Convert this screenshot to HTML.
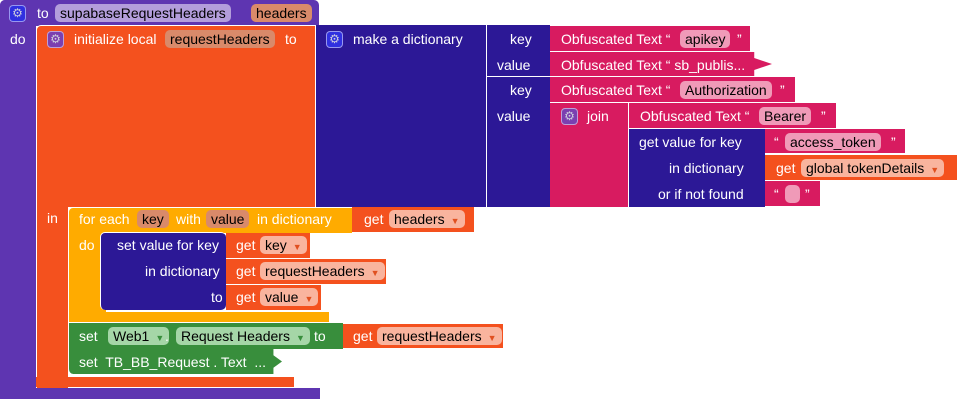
<!DOCTYPE html>
<html><head><meta charset="utf-8"><style>
body{margin:0;width:957px;height:400px;position:relative;background:#fff;overflow:hidden;font-family:"Liberation Sans",Arial,sans-serif;font-size:14px;color:#fff}
.b{position:absolute;box-sizing:border-box}
.t{position:absolute;white-space:nowrap;line-height:16px}
.f{position:absolute;height:18px;line-height:18px;border-radius:5px;padding:0 5px;color:#000;box-sizing:border-box;white-space:nowrap}
.g{position:absolute;width:17px;height:17px;border-radius:4px;border:1px solid rgba(255,255,255,.5);box-sizing:border-box;text-align:center;line-height:15px;font-size:12px;color:#ccd}
.dd{font-size:9px;color:#e05020;margin-left:6px}
</style></head><body>
<!-- procedure -->
<div class="b" style="left:0;top:0;width:319px;height:26px;background:#5e35b1;border-radius:5px 5px 0 0"></div>
<div class="b" style="left:0;top:0;width:36px;height:399px;background:#5e35b1;border-radius:5px 0 0 5px"></div>
<div class="b" style="left:0;top:388px;width:320px;height:11px;background:#5e35b1"></div>
<div class="g" style="left:9;left:9px;top:5px;background:#3030e0">⚙</div>
<div class="t" style="left:37px;top:5px">to</div>
<div class="f" style="left:55px;top:4px;background:#b39ddb">supabaseRequestHeaders</div>
<div class="f" style="left:251px;top:4px;background:#d98a6a">headers</div>
<div class="t" style="left:10px;top:31px">do</div>
<!-- init local -->
<div class="b" style="left:36px;top:25px;width:280px;height:182px;background:#f4511e;border-radius:5px 0 0 0;border-left:1px solid #fff;border-top:1px solid #fff"></div>
<div class="b" style="left:36px;top:200px;width:32px;height:188px;background:#f4511e;border-left:1px solid #fff"></div>
<div class="b" style="left:36px;top:377px;width:258px;height:10px;background:#f4511e"></div>
<div class="g" style="left:47px;top:31px;background:#7b3fb0">⚙</div>
<div class="t" style="left:74px;top:31px">initialize local</div>
<div class="f" style="left:165px;top:30px;background:#d98a6a">requestHeaders</div>
<div class="t" style="left:285px;top:31px">to</div>
<div class="t" style="left:47px;top:210px">in</div>
<!-- make a dictionary -->
<div class="b" style="left:315px;top:25px;width:172px;height:182px;background:#2c1896;border-left:1px solid #fff"></div>
<div class="g" style="left:326px;top:31px;background:#3030e0">⚙</div>
<div class="t" style="left:353px;top:31px">make a dictionary</div>
<div class="b" style="left:486px;top:25px;width:64px;height:182px;background:#2c1896;border-left:1px solid #fff"></div>
<div class="b" style="left:486px;top:76px;width:64px;height:1px;background:#fff"></div>
<div class="t" style="left:510px;top:31px">key</div>
<div class="t" style="left:497px;top:57px">value</div>
<div class="t" style="left:510px;top:82px">key</div>
<div class="t" style="left:497px;top:108px">value</div>
<!-- pink -->
<div class="b" style="left:550px;top:26px;width:200px;height:25px;background:#d81b60"></div>
<div class="t" style="left:561px;top:31px">Obfuscated Text “</div>
<div class="f" style="left:680px;top:30px;background:#f09ab8">apikey</div>
<div class="t" style="left:737px;top:31px">”</div>
<div class="b" style="left:550px;top:52px;width:222px;height:24px;background:#d81b60;clip-path:polygon(0 0,92% 0,92% 25%,100% 50%,92% 75%,92% 100%,0 100%)"></div>
<div class="t" style="left:561px;top:57px">Obfuscated Text “ sb_publis...</div>
<div class="b" style="left:550px;top:77px;width:245px;height:25px;background:#d81b60"></div>
<div class="t" style="left:561px;top:82px">Obfuscated Text “</div>
<div class="f" style="left:680px;top:81px;background:#f09ab8">Authorization</div>
<div class="t" style="left:780px;top:82px">”</div>
<div class="b" style="left:550px;top:103px;width:78px;height:104px;background:#d81b60"></div>
<div class="g" style="left:561px;top:108px;background:#7b3fb0">⚙</div>
<div class="t" style="left:587px;top:108px">join</div>
<div class="b" style="left:628px;top:103px;width:208px;height:25px;background:#d81b60;border-left:1px solid #fff"></div>
<div class="t" style="left:640px;top:108px">Obfuscated Text “</div>
<div class="f" style="left:759px;top:107px;background:#f09ab8">Bearer</div>
<div class="t" style="left:821px;top:108px">”</div>
<div class="b" style="left:628px;top:129px;width:137px;height:78px;background:#2c1896;border-left:1px solid #fff"></div>
<div class="t" style="left:639px;top:134px">get value for key</div>
<div class="t" style="left:669px;top:160px">in dictionary</div>
<div class="t" style="left:658px;top:186px">or if not found</div>
<div class="b" style="left:765px;top:129px;width:140px;height:24px;background:#d81b60"></div>
<div class="t" style="left:774px;top:134px">“</div>
<div class="f" style="left:785px;top:133px;background:#f09ab8">access_token</div>
<div class="t" style="left:891px;top:134px">”</div>
<div class="b" style="left:765px;top:155px;width:192px;height:25px;background:#f4511e"></div>
<div class="t" style="left:776px;top:160px">get</div>
<div class="f" style="left:801px;top:159px;background:#f9b49e">global tokenDetails<span class="dd">▼</span></div>
<div class="b" style="left:765px;top:181px;width:55px;height:25px;background:#d81b60"></div>
<div class="t" style="left:774px;top:186px">“</div>
<div class="f" style="left:785px;top:185px;width:15px;background:#f09ab8"></div>
<div class="t" style="left:805px;top:186px">”</div>
<!-- for each -->
<div class="b" style="left:68px;top:207px;width:284px;height:26px;background:#ffab00;border-radius:5px 0 0 0;border-left:1px solid #fff;border-top:1px solid #fff"></div>
<div class="b" style="left:68px;top:220px;width:38px;height:102px;background:#ffab00;border-left:1px solid #fff"></div>
<div class="b" style="left:68px;top:312px;width:261px;height:10px;background:#ffab00;border-left:1px solid #fff"></div>
<div class="t" style="left:79px;top:211px">for each</div>
<div class="f" style="left:137px;top:210px;background:#d98a6a">key</div>
<div class="t" style="left:176px;top:211px">with</div>
<div class="f" style="left:206px;top:210px;background:#d98a6a">value</div>
<div class="t" style="left:257px;top:211px">in dictionary</div>
<div class="t" style="left:79px;top:237px">do</div>
<div class="b" style="left:352px;top:207px;width:122px;height:25px;background:#f4511e"></div>
<div class="t" style="left:364px;top:211px">get</div>
<div class="f" style="left:389px;top:210px;background:#f9b49e">headers<span class="dd">▼</span></div>
<!-- set value for key -->
<div class="b" style="left:100px;top:232px;width:126px;height:78px;background:#2c1896;border-radius:5px;border-left:1px solid #fff;border-top:1px solid #fff"></div>
<div class="t" style="left:117px;top:237px">set value for key</div>
<div class="t" style="left:145px;top:263px">in dictionary</div>
<div class="t" style="left:211px;top:289px">to</div>
<div class="b" style="left:226px;top:233px;width:84px;height:25px;background:#f4511e"></div>
<div class="t" style="left:236px;top:237px">get</div>
<div class="f" style="left:260px;top:236px;background:#f9b49e">key<span class="dd">▼</span></div>
<div class="b" style="left:226px;top:259px;width:160px;height:25px;background:#f4511e"></div>
<div class="t" style="left:236px;top:263px">get</div>
<div class="f" style="left:260px;top:262px;background:#f9b49e">requestHeaders<span class="dd">▼</span></div>
<div class="b" style="left:226px;top:285px;width:95px;height:25px;background:#f4511e"></div>
<div class="t" style="left:236px;top:289px">get</div>
<div class="f" style="left:260px;top:288px;background:#f9b49e">value<span class="dd">▼</span></div>
<!-- set web1 -->
<div class="b" style="left:68px;top:323px;width:275px;height:26px;background:#388e3c;border-left:1px solid #fff"></div>
<div class="t" style="left:79px;top:328px">set</div>
<div class="f" style="left:108px;top:327px;background:#a5d6a7">Web1<span class="dd" style="color:#388e3c">▼</span></div>
<div class="t" style="left:165px;top:328px">.</div>
<div class="f" style="left:176px;top:327px;background:#a5d6a7">Request Headers<span class="dd" style="color:#388e3c">▼</span></div>
<div class="t" style="left:314px;top:328px">to</div>
<div class="b" style="left:343px;top:324px;width:160px;height:24px;background:#f4511e"></div>
<div class="t" style="left:353px;top:328px">get</div>
<div class="f" style="left:377px;top:327px;background:#f9b49e">requestHeaders<span class="dd">▼</span></div>
<div class="b" style="left:68px;top:349px;width:214px;height:25px;background:#388e3c;border-left:1px solid #fff;border-radius:0 0 0 5px;clip-path:polygon(0 0,96% 0,96% 25%,100% 50%,96% 75%,96% 100%,0 100%)"></div>
<div class="t" style="left:79px;top:354px">set&nbsp; TB_BB_Request . Text&nbsp; ...</div>
</body></html>
